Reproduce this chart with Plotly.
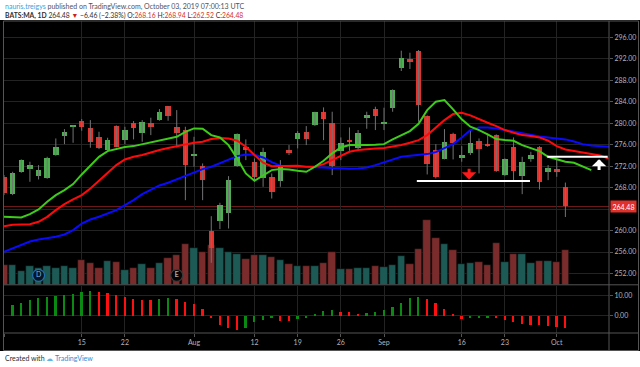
import plotly.graph_objects as go

# ---------------- data ----------------
dates = [
    "2019-07-01", "2019-07-02", "2019-07-03", "2019-07-05", "2019-07-08", "2019-07-09", "2019-07-10",
    "2019-07-11", "2019-07-12", "2019-07-15", "2019-07-16", "2019-07-17", "2019-07-18", "2019-07-19",
    "2019-07-22", "2019-07-23", "2019-07-24", "2019-07-25", "2019-07-26", "2019-07-29", "2019-07-30",
    "2019-07-31", "2019-08-01", "2019-08-02", "2019-08-05", "2019-08-06", "2019-08-07", "2019-08-08",
    "2019-08-09", "2019-08-12", "2019-08-13", "2019-08-14", "2019-08-15", "2019-08-16", "2019-08-19",
    "2019-08-20", "2019-08-21", "2019-08-22", "2019-08-23", "2019-08-26", "2019-08-27", "2019-08-28",
    "2019-08-29", "2019-08-30", "2019-09-03", "2019-09-04", "2019-09-05", "2019-09-06", "2019-09-09",
    "2019-09-10", "2019-09-11", "2019-09-12", "2019-09-13", "2019-09-16", "2019-09-17", "2019-09-18",
    "2019-09-19", "2019-09-20", "2019-09-23", "2019-09-24", "2019-09-25", "2019-09-26", "2019-09-27",
    "2019-09-30", "2019-10-01", "2019-10-02",
]
tick_labels = {
    "2019-07-01": "Jul", "2019-07-15": "15", "2019-07-22": "22", "2019-08-01": "Aug",
    "2019-08-12": "12", "2019-08-19": "19", "2019-08-26": "26", "2019-09-03": "Sep",
    "2019-09-16": "16", "2019-09-23": "23", "2019-10-01": "Oct",
}
open_ = [270.02, 266.78, 270.95, 271.51, 270.13, 269.83, 274.06, 277.60, 279.21, 280.46, 279.03,
         277.47, 274.99, 279.46, 276.85, 279.96, 278.22, 279.96, 280.58, 283.13, 279.34, 278.72,
         273.93, 272.07, 259.95, 261.75, 263.30, 272.07, 275.61, 272.81, 269.83, 269.89, 269.27,
         274.99, 277.04, 278.40, 279.59, 282.13, 279.96, 274.86, 276.85, 275.30, 281.02, 282.57,
         280.02, 282.76, 290.21, 291.95, 293.45, 281.33, 274.99, 273.37, 278.03, 273.43, 274.49,
         276.73, 276.10, 277.78, 270.33, 275.61, 270.20, 273.25, 275.48, 270.95, 271.44, 268.16]
high = [270.33, 270.95, 273.25, 272.81, 272.19, 273.74, 277.16, 278.90, 279.65, 280.77, 280.58,
        278.40, 277.29, 279.59, 279.34, 280.40, 280.58, 281.02, 282.63, 283.19, 282.44, 279.34,
        277.47, 272.50, 262.68, 265.17, 270.14, 278.10, 276.98, 273.43, 275.42, 270.64, 273.12,
        275.92, 278.53, 279.46, 282.13, 282.94, 282.13, 277.35, 279.21, 278.72, 282.13, 283.07,
        282.88, 286.30, 293.51, 293.13, 293.63, 281.45, 276.10, 278.90, 278.22, 275.73, 278.72,
        277.16, 277.78, 277.91, 273.43, 277.35, 273.74, 274.68, 275.73, 272.19, 273.25, 268.94]
low = [266.60, 266.60, 270.76, 269.08, 269.52, 269.64, 273.93, 276.10, 276.35, 278.59, 275.42,
       275.17, 274.86, 275.48, 276.10, 276.98, 276.54, 277.78, 280.46, 280.46, 275.48, 265.66,
       271.88, 265.66, 253.98, 260.26, 260.38, 271.88, 273.12, 269.39, 268.15, 265.97, 268.15,
       274.06, 275.30, 275.92, 279.46, 276.85, 270.33, 273.12, 274.86, 275.17, 278.96, 278.72,
       278.72, 282.13, 289.72, 290.09, 280.27, 270.45, 269.70, 273.25, 273.25, 272.81, 274.06,
       270.64, 275.61, 270.95, 270.14, 269.27, 266.78, 272.81, 267.65, 269.39, 270.01, 262.52]
close = [266.91, 270.64, 273.12, 272.19, 271.26, 273.43, 275.48, 278.34, 279.59, 279.34, 276.54,
         275.30, 276.85, 275.61, 278.72, 279.03, 280.27, 279.34, 282.13, 281.39, 278.10, 272.19,
         274.18, 269.39, 256.84, 264.73, 269.39, 277.97, 274.99, 270.01, 274.55, 267.22, 272.00,
         274.37, 278.10, 277.04, 282.01, 280.77, 272.00, 276.35, 276.60, 278.22, 281.45, 281.39,
         280.21, 286.17, 292.08, 291.33, 283.38, 272.32, 270.01, 276.42, 276.35, 274.06, 276.23,
         275.11, 275.86, 271.13, 273.25, 271.13, 272.81, 273.99, 269.08, 271.57, 270.94, 264.48]
volume_m = [3.28, 3.28, 2.22, 3.11, 2.72, 3.06, 2.83, 3.17, 2.83, 4.17, 3.61, 2.83, 3.94, 3.72,
            2.50, 2.83, 3.44, 2.83, 3.61, 4.50, 4.89, 6.78, 6.17, 5.50, 6.56, 6.11, 5.50, 5.11,
            4.22, 4.89, 4.89, 4.61, 4.11, 3.39, 3.06, 3.17, 3.06, 3.61, 5.50, 2.67, 2.67, 2.83,
            2.83, 3.17, 2.94, 3.28, 4.72, 3.50, 5.94, 10.83, 7.83, 6.83, 5.78, 3.39, 3.61, 3.72,
            3.28, 6.94, 3.83, 5.06, 5.06, 3.61, 4.00, 4.00, 3.83, 5.78]
awesome_osc = [None, 5.67, 6.83, 8.33, 9.33, 9.45, 10.33, 10.83, 11.33, 12.33, 12.83, 12.33, 11.5,
               10.83, 9.5, 8.67, 8.33, 8.25, 8.67, 9.0, 8.67, 7.0, 6.0, 3.4, -0.9, -4.33, -6.0,
               -6.67, -5.83, -3.0, -1.67, -1.0, -2.17, -2.5, -1.5, -0.67, 1.2, 2.7, 3.0, 2.3, 2.0,
               1.3, 1.5, 2.17, 3.33, 4.67, 6.83, 9.0, 9.83, 8.83, 6.83, 3.83, 1.17, -1.17, -0.67,
               -0.6, -0.5, -1.0, -2.0, -3.0, -3.83, -4.17, -4.5, -5.0, -5.33, -5.83]
# Alligator lines (already displaced forward: lips 3, teeth 5, jaw 8 bars)
lips = [262.56, 262.50, 262.43, 263.06, 263.92, 265.35, 266.60, 267.53, 268.65, 270.45, 272.07,
        273.74, 274.80, 275.24, 275.55, 275.73, 276.10, 276.48, 276.85, 277.16, 277.47, 278.40,
        279.03, 278.96, 277.78, 277.35, 275.92, 273.43, 270.64, 269.27, 270.33, 271.26, 271.45,
        271.38, 271.13, 270.95, 271.88, 272.99, 274.37, 275.48, 275.92, 275.86, 275.92, 275.98,
        276.10, 276.98, 277.72, 278.53, 279.90, 282.44, 284.00, 284.31, 282.57, 280.71, 279.34,
        278.72, 277.91, 277.04, 276.85, 276.73, 275.92, 275.36, 274.80, 273.74, 273.25, 272.81,
        272.63, 272.00, 271.26]
teeth = [260.82, 261.06, 261.13, 261.19, 261.63, 262.56, 263.80, 264.92, 265.79, 266.60, 267.84,
         269.27, 270.76, 272.19, 273.25, 273.74, 274.06, 274.55, 274.99, 275.36, 275.73, 276.10,
         276.35, 276.54, 277.04, 277.23, 277.16, 276.73, 275.61, 274.06, 272.63, 272.00, 272.07,
         272.13, 272.07, 271.88, 271.88, 272.38, 273.12, 273.99, 274.68, 274.99, 275.17, 275.30,
         275.36, 275.61, 275.92, 276.35, 276.85, 277.78, 279.21, 280.58, 281.70, 281.95, 281.45,
         280.71, 280.08, 279.46, 278.72, 278.22, 277.78, 277.60, 277.35, 276.73, 275.73, 275.11,
         274.80, 274.49, 274.24, 274.00, 273.40]
jaw = [256.03, 256.65, 257.28, 257.96, 258.33, 258.58, 258.83, 259.26, 260.07, 261.31, 262.06,
       262.56, 263.18, 263.80, 264.73, 265.66, 266.78, 267.65, 268.40, 268.90, 269.52, 270.26,
       270.89, 271.45, 271.88, 272.50, 273.25, 273.87, 274.18, 274.12, 273.62, 272.75, 272.07,
       271.88, 271.88, 271.88, 271.88, 271.76, 271.63, 271.51, 271.51, 271.57, 271.76, 272.19,
       272.69, 273.25, 273.74, 273.93, 274.12, 274.24, 274.61, 275.30, 276.10, 277.35, 278.72,
       279.21, 279.21, 279.03, 278.72, 278.40, 278.22, 277.91, 277.54, 277.35, 277.23, 276.98,
       276.60, 276.10, 275.86, 275.73, 275.61, 275.48, 275.36, 275.24]
events = [("D", "2019-07-08"), ("E", "2019-07-30")]
price_ticks = [252, 256, 260, 264, 268, 272, 276, 280, 284, 288, 292, 296]
last_price = 264.48
support_level = 269.21
resistance_level = 273.74

# ---------------- styles ----------------
UP, DOWN = "#4caf50", "#e5322d"
VOL_UP, VOL_DOWN = "#1d5a55", "#7a2b2b"
GRID = "#232323"
FRAME = "#555555"
LABEL = "#b4b4b4"
FONT = "Lato"

x = list(range(len(dates)))
is_up = [c >= o for o, c in zip(open_, close)]

wick_x, wick_y = [], []
for i, (h, l) in enumerate(zip(high, low)):
    wick_x += [i, i, None]
    wick_y += [l, h, None]
body_base = [min(o, c) for o, c in zip(open_, close)]
body_h = [max(abs(c - o), 0.12) for o, c in zip(open_, close)]

ao_colors = []
prev = None
for v in awesome_osc:
    ao_colors.append("#0a8a12" if (prev is None or v is None or v >= prev) else "#ff1010")
    prev = v if v is not None else prev

fig = go.Figure()

# volume (base axis y)
fig.add_trace(go.Bar(x=x, y=volume_m, width=0.86, xaxis="x", yaxis="y",
                     marker=dict(color=[VOL_UP if u else VOL_DOWN for u in is_up],
                                 line=dict(width=0.6, color="#0c0c0c")),
                     hoverinfo="skip", showlegend=False))
# event markers
fig.add_trace(go.Scatter(x=[dates.index(d) for _, d in events], y=[1.55] * len(events),
                         mode="markers+text", text=[e for e, _ in events],
                         textposition="middle center",
                         textfont=dict(family=FONT, size=7, color=["#7fb3e0", "#e0e0e0"]),
                         marker=dict(size=12, color=["#061626", "#050505"],
                                     line=dict(width=1.2, color=["#1f6fb0", "#3a3a3a"])),
                         xaxis="x", yaxis="y", hoverinfo="skip", showlegend=False))
# candle wicks and bodies (price axis y3)
fig.add_trace(go.Scatter(x=wick_x, y=wick_y, mode="lines", line=dict(color="#737375", width=1),
                         xaxis="x", yaxis="y3", hoverinfo="skip", showlegend=False))
fig.add_trace(go.Bar(x=x, y=body_h, base=body_base, width=0.64, xaxis="x", yaxis="y3",
                     marker=dict(color=[UP if u else DOWN for u in is_up], line=dict(width=0)),
                     hoverinfo="skip", showlegend=False))
# alligator
for vals, col in ((jaw, "#0a0aff"), (teeth, "#ff0a0a"), (lips, "#3ecc1a")):
    fig.add_trace(go.Scatter(x=list(range(len(vals))), y=vals, mode="lines",
                             line=dict(color=col, width=2), xaxis="x", yaxis="y3",
                             hoverinfo="skip", showlegend=False))
# awesome oscillator
fig.add_trace(go.Bar(x=x, y=awesome_osc, width=0.2, xaxis="x2", yaxis="y2",
                     marker=dict(color=ao_colors, line=dict(width=0)),
                     hoverinfo="skip", showlegend=False))

tickvals = [dates.index(d) for d in tick_labels]
ticktext = list(tick_labels.values())

W, H = 640, 367
ML, MR, MT, MB = 4, 31, 21, 34
PW, PH = W - ML - MR, H - MT - MB


def px(X):
    return (X - ML) / PW


def py(Y):
    return (H - MB - Y) / PH


shapes = [
    dict(type="rect", xref="paper", yref="paper", x0=px(0), x1=px(640), y0=py(351), y1=py(20),
         fillcolor="#000000", line=dict(width=0), layer="below"),
    dict(type="line", xref="paper", yref="y3", x0=0, x1=1, y0=last_price, y1=last_price,
         line=dict(color="#6e1a1a", width=1), layer="below"),
    # frame
    dict(type="rect", xref="paper", yref="paper", x0=px(3.5), x1=px(638.5), y0=py(350.5), y1=py(21),
         line=dict(color=FRAME, width=1)),
    dict(type="line", xref="paper", yref="paper", x0=px(3.5), x1=px(638.5), y0=py(284.8), y1=py(284.8),
         line=dict(color=FRAME, width=1)),
    dict(type="line", xref="paper", yref="paper", x0=px(3.5), x1=px(638.5), y0=0, y1=0,
         line=dict(color=FRAME, width=1)),
    dict(type="line", xref="paper", yref="paper", x0=1, x1=1, y0=py(350.5), y1=py(21),
         line=dict(color=FRAME, width=1)),
    # drawn levels
    dict(type="line", xref="x", yref="y3", x0=47.8, x1=60.9, y0=support_level, y1=support_level,
         line=dict(color="#ffffff", width=2)),
    dict(type="line", xref="x", yref="y3", x0=62.9, x1=69.9, y0=resistance_level, y1=resistance_level,
         line=dict(color="#ffffff", width=2)),
]

annotations = [
    dict(xref="x", yref="y3", x=53.85, y=269.5, axref="x", ayref="y3", ax=53.85, ay=271.8,
         showarrow=True, arrowhead=1, arrowsize=0.8, arrowwidth=3, arrowcolor="#ff1a1a", text=""),
    dict(xref="x", yref="y3", x=68.9, y=273.3, axref="x", ayref="y3", ax=68.9, ay=271.0,
         showarrow=True, arrowhead=1, arrowsize=0.8, arrowwidth=3, arrowcolor="#ffffff", text=""),
    dict(xref="paper", yref="y3", x=1, y=last_price, xanchor="left", yanchor="middle", xshift=1,
         text="%.2f" % last_price, showarrow=False, bgcolor="#e0302a", borderpad=1.5,
         font=dict(family=FONT, size=7, color="#ffffff")),
    dict(xref="paper", yref="paper", x=px(3), y=py(6.5), xanchor="left", yanchor="middle",
         showarrow=False, font=dict(family=FONT, size=7, color="#50535e"),
         text='<span style="color:#3b9fdc">nauris.treigys</span> published on TradingView.com, '
              'October 03, 2019 07:00:13 UTC'),
    dict(xref="paper", yref="paper", x=px(3), y=py(15.5), xanchor="left", yanchor="middle",
         showarrow=False, font=dict(family=FONT, size=6.8, color="#2e2e2e"),
         text='<b>BATS:MA, 1D</b> 264.48 <span style="color:#c9201c">▼</span> −6.46 (−2.38%) '
              'O:<span style="color:#d3302a">268.16</span> H:<span style="color:#d3302a">268.94</span> '
              'L:<span style="color:#d3302a">262.52</span> C:<span style="color:#d3302a">264.48</span>'),
    dict(xref="paper", yref="paper", x=px(3), y=py(357.5), xanchor="left", yanchor="middle",
         showarrow=False, font=dict(family=FONT, size=7, color="#2e2e2e"),
         text='Created with <span style="color:#5fb6e6">☁</span> <span style="color:#2a8fd8">TradingView</span>'),
]

axis_font = dict(family=FONT, size=7, color=LABEL)
fig.update_layout(
    width=W, height=H, margin=dict(l=ML, r=MR, t=MT, b=MB, pad=0),
    paper_bgcolor="#ffffff", plot_bgcolor="#000000", barmode="overlay", bargap=0,
    showlegend=False, shapes=shapes, annotations=annotations,
    xaxis=dict(domain=[0, 1], range=[0, 70.05], anchor="y", tickvals=tickvals, showticklabels=False,
               showgrid=True, gridcolor=GRID, gridwidth=1, zeroline=False, showline=False, ticks=""),
    xaxis2=dict(domain=[0, 1], range=[0, 70.05], anchor="y2", matches="x", tickvals=tickvals,
                ticktext=ticktext, showticklabels=True, ticks="outside", ticklen=3, tickcolor=FRAME,
                tickfont=axis_font, showgrid=True, gridcolor=GRID, zeroline=False, showline=False),
    yaxis=dict(domain=[0.155, 1], range=[0, 43.93], visible=False, showgrid=False),
    yaxis3=dict(overlaying="y", anchor="x", side="right", range=[249.92, 299.04], tickvals=price_ticks,
                ticktext=["" if v == 264 else "%.2f" % v for v in price_ticks], tickfont=axis_font,
                ticks="outside", ticklen=3, tickcolor=FRAME, showgrid=True, gridcolor=GRID,
                zeroline=False, showline=False),
    yaxis2=dict(domain=[0, 0.152], anchor="x2", side="right", range=[-8.6, 15.1], tickvals=[0, 10],
                ticktext=["0.00", "10.00"], tickfont=axis_font, ticks="outside", ticklen=3,
                tickcolor=FRAME, showgrid=True, gridcolor=GRID, zeroline=False, showline=False),
)

fig.write_html("out.html", config={"displayModeBar": False},
               post_script="document.body.style.margin='0';document.body.style.overflow='hidden';")
